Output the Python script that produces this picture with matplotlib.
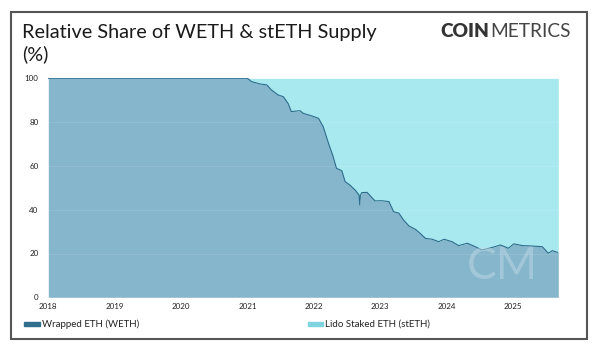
import matplotlib
matplotlib.use("Agg")
import matplotlib.pyplot as plt
from matplotlib.patches import Rectangle
import numpy as np

# ---- data (decimal years, % share) ----
years = [2018.0, 2021.0, 2021.06, 2021.19, 2021.29, 2021.36, 2021.46, 2021.54, 2021.61,
         2021.66, 2021.79, 2021.84, 2021.97, 2022.07, 2022.14, 2022.22, 2022.29, 2022.34,
         2022.42, 2022.47, 2022.54, 2022.62, 2022.68, 2022.69, 2022.70, 2022.72, 2022.80,
         2022.85, 2022.92, 2023.02, 2023.13, 2023.20, 2023.28, 2023.35, 2023.43, 2023.53,
         2023.60, 2023.68, 2023.78, 2023.88, 2023.96, 2024.08, 2024.18, 2024.31, 2024.43,
         2024.53, 2024.69, 2024.81, 2024.93, 2025.01, 2025.14, 2025.29, 2025.44, 2025.53,
         2025.59, 2025.68]
weth = [100, 100, 98.5, 97.4, 97.0, 94.7, 92.4, 91.6, 88.6,
        84.8, 85.2, 84.0, 82.8, 81.7, 77.9, 70.3, 64.2, 58.9,
        57.8, 52.8, 51.3, 49.0, 46.7, 42.2, 46.5, 47.8, 47.9,
        46.3, 44.0, 44.1, 43.7, 39.1, 38.4, 35.3, 32.6, 31.0,
        29.2, 26.9, 26.5, 25.4, 26.5, 25.4, 23.6, 24.7, 23.1,
        21.6, 22.8, 23.9, 22.4, 24.4, 23.6, 23.4, 23.1, 20.1,
        21.3, 20.4]
steth = [100 - v for v in weth]
xticks = [2018, 2019, 2020, 2021, 2022, 2023, 2024, 2025]
yticks = [0, 20, 40, 60, 80, 100]
series_names = ["Wrapped ETH (WETH)", "Lido Staked ETH (stETH)"]

FONT = ["Lato", "DejaVu Sans"]
plt.rcParams["font.family"] = FONT

fig = plt.figure(figsize=(6.0, 3.52), dpi=100)
W, H = 600, 352

ax = fig.add_axes([48.3 / W, 1 - 297.3 / H, (558.3 - 48.3) / W, (297.3 - 78.3) / H])

c_weth_fill = "#86b6cc"
c_weth_line = "#2b6c8c"
c_steth_fill = "#a8e9ef"

x = np.array(years)
w = np.array(weth)
s = np.array(steth)
ax.fill_between(x, 0, w, color=c_weth_fill, lw=0, zorder=1)
ax.fill_between(x, w, w + s, color=c_steth_fill, lw=0, zorder=1)
ax.plot(x, w, color=c_weth_line, lw=0.8, zorder=3)

ax.set_xlim(2018.0, 2025.68)
ax.set_ylim(0, 100)
ax.set_xticks(xticks)
ax.set_xticklabels([str(t) for t in xticks])
ax.set_yticks(yticks)
ax.set_yticklabels([str(t) for t in yticks])
ax.tick_params(axis="both", length=0, labelsize=5.8, colors="#222222")
ax.tick_params(axis="x", pad=4)
ax.tick_params(axis="y", pad=7)
for sp in ax.spines.values():
    sp.set_visible(False)
ax.grid(axis="y", color="white", alpha=0.12, lw=0.6, zorder=2)
ax.set_axisbelow(False)

# CM watermark
ax.text(0.89, 0.14, "CM", transform=ax.transAxes, fontsize=32, color="#c6dde8",
        alpha=0.45, ha="center", va="center", fontweight="normal", zorder=4)

# Frame
fig.patches.append(Rectangle((11 / W, 1 - 339 / H), (587 - 11) / W, (339 - 12) / H,
                             transform=fig.transFigure, fill=False, edgecolor="#555555",
                             lw=1.5))

# Title
fig.text(22 / W, 1 - 24 / H, "Relative Share of WETH & stETH Supply\n(%)",
         fontsize=14.3, color="#1a1a1a", ha="left", va="top", linespacing=1.3)

# COINMETRICS logo
t1 = fig.text(440.5 / W, 1 - 31.5 / H, "COIN", fontsize=13.8, fontweight="heavy",
              color="#333333", ha="left", va="center")
fig.canvas.draw()
bb = t1.get_window_extent()
fig.text(bb.x1 / fig.bbox.width + 0.5 / W, 1 - 31.5 / H, "METRICS", fontsize=13.8,
         fontweight="normal", color="#444444", ha="left", va="center")

# Legend
leg_y = 1 - 324 / H
fig.patches.append(Rectangle((24 / W, leg_y - 1.6 / H), 16 / W, 3.2 / H,
                             transform=fig.transFigure, color="#2f6e8d"))
fig.text(42 / W, leg_y, series_names[0], fontsize=7, color="#222222", ha="left", va="center")
fig.patches.append(Rectangle((308 / W, leg_y - 1.6 / H), 15 / W, 3.2 / H,
                             transform=fig.transFigure, color="#7fd3de"))
fig.text(325 / W, leg_y, series_names[1], fontsize=7, color="#222222", ha="left", va="center")

fig.savefig("out.png", dpi=100, facecolor="white")
